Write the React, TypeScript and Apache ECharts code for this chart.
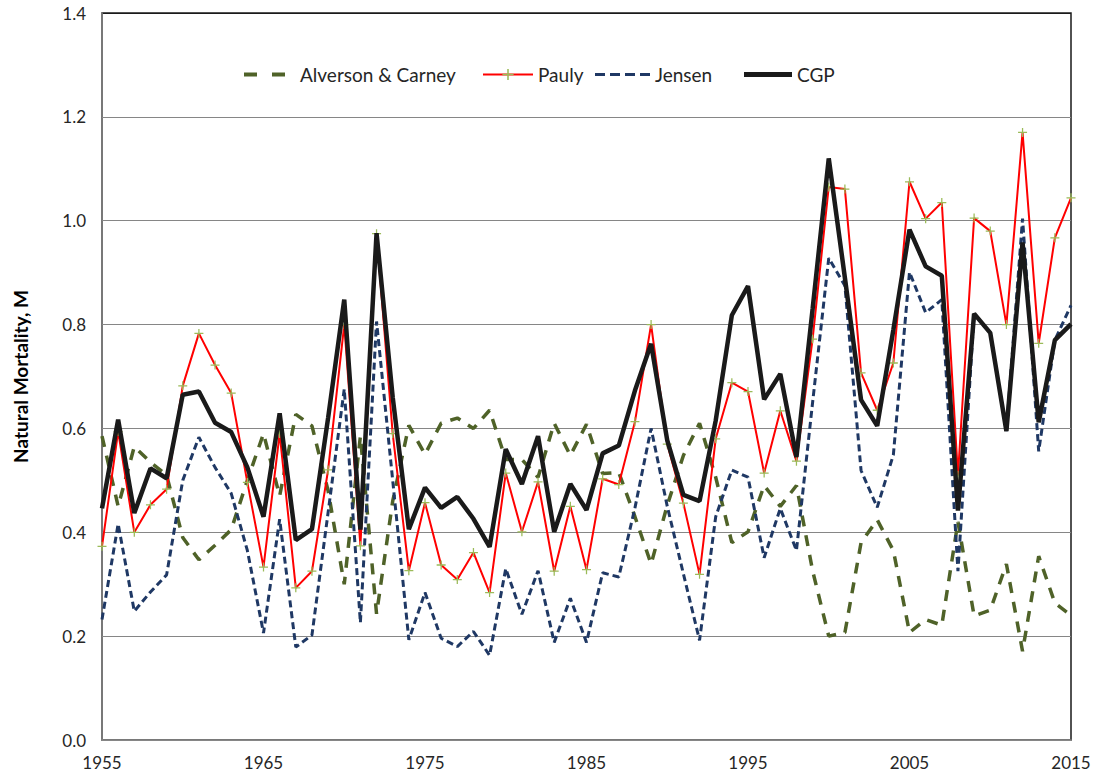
import React, { useEffect, useRef } from "react";
import * as echarts from "echarts";

const years: string[] = [];
for (let y = 1955; y <= 2015; y++) years.push(String(y));

const alversonCarney = [
  0.585, 0.45, 0.565, 0.535, 0.51, 0.39, 0.347, 0.375, 0.405, 0.5,
  0.59, 0.47, 0.627, 0.605, 0.48, 0.3, 0.585, 0.243, 0.46, 0.606,
  0.55, 0.61, 0.62, 0.6, 0.635, 0.54, 0.54, 0.506, 0.61, 0.548,
  0.608, 0.513, 0.515, 0.43, 0.339, 0.452, 0.548, 0.61, 0.506, 0.38,
  0.401, 0.49, 0.45, 0.49, 0.326, 0.2, 0.207, 0.38, 0.424, 0.365,
  0.207, 0.232, 0.221, 0.42, 0.239, 0.25, 0.339, 0.171, 0.354, 0.264,
  0.24,
];

const pauly = [
  0.373, 0.594, 0.4, 0.453, 0.483, 0.682, 0.783, 0.722, 0.668, 0.496,
  0.333, 0.59, 0.293, 0.325, 0.52, 0.8, 0.374, 0.975, 0.59, 0.326,
  0.457, 0.337, 0.309, 0.361, 0.284, 0.514, 0.401, 0.497, 0.325, 0.45,
  0.328, 0.503, 0.492, 0.613, 0.8, 0.57, 0.456, 0.319, 0.58, 0.688,
  0.671, 0.514, 0.634, 0.537, 0.772, 1.065, 1.061, 0.707, 0.635, 0.726,
  1.075, 1.004, 1.035, 0.51, 1.005, 0.98, 0.8, 1.17, 0.764, 0.967,
  1.044,
];

const jensen = [
  0.232, 0.416, 0.248, 0.285, 0.318, 0.5, 0.583, 0.525, 0.475, 0.365,
  0.206, 0.425, 0.179, 0.202, 0.438, 0.676, 0.226, 0.806, 0.5, 0.193,
  0.284, 0.196, 0.18, 0.209, 0.163, 0.33, 0.242, 0.326, 0.188, 0.273,
  0.188, 0.322, 0.314, 0.447, 0.6, 0.45, 0.32, 0.192, 0.43, 0.52,
  0.506, 0.351, 0.446, 0.365, 0.65, 0.928, 0.875, 0.519, 0.448, 0.549,
  0.901, 0.823, 0.848, 0.325, 0.82, 0.784, 0.595, 1.004, 0.556, 0.77,
  0.837,
];

const cgp = [
  0.446, 0.617, 0.437, 0.523, 0.504, 0.665, 0.671, 0.611, 0.593, 0.525,
  0.43, 0.629, 0.385, 0.406, 0.62, 0.848, 0.405, 0.976, 0.66, 0.406,
  0.486, 0.447, 0.468, 0.426, 0.372, 0.56, 0.493, 0.585, 0.401, 0.493,
  0.443, 0.552, 0.567, 0.673, 0.763, 0.577, 0.472, 0.46, 0.615, 0.818,
  0.874, 0.656, 0.705, 0.545, 0.83, 1.12, 0.89, 0.655, 0.605, 0.79,
  0.983, 0.912, 0.894, 0.442, 0.821, 0.784, 0.595, 0.958, 0.612, 0.77,
  0.801,
];

const PLUS = "path://M4.3,0H5.7V4.3H10V5.7H5.7V10H4.3V5.7H0V4.3H4.3Z";
const ICON_AC = "path://M0,0H13V4H0Z M28,0H41V4H28Z";
const ICON_JENSEN = "path://M0,0H10V3H0Z M15,0H25V3H15Z M30,0H40V3H30Z M45,0H55V3H45Z";
const FONT = "Lato, 'Noto Sans', sans-serif";

export default function App() {
  const ref = useRef<HTMLDivElement>(null);

  useEffect(() => {
    if (!ref.current) return;
    const chart = echarts.init(ref.current, null, { renderer: "svg" });
    const legendText = { fontFamily: FONT, fontSize: 19, color: "#262626" };
    const mkLegend = (
      name: string,
      left: number,
      itemWidth: number,
      itemHeight: number,
      icon: string | undefined,
      pad = 0
    ) => ({
      show: true,
      data: [icon ? { name, icon } : { name }],
      left,
      top: 60,
      itemWidth,
      itemHeight,
      textStyle: { ...legendText, padding: [0, 0, 0, pad] },
    });
    chart.setOption({
      animation: false,
      backgroundColor: "#ffffff",
      grid: {
        left: 102,
        right: 24,
        top: 13,
        bottom: 40,
        show: true,
        borderColor: "#1a1a1a",
        borderWidth: 1.5,
      },
      legend: [
        mkLegend("Alverson & Carney", 239, 41, 4, ICON_AC, 10),
        mkLegend("Pauly", 477, 50, 14, undefined),
        mkLegend("Jensen", 590, 55, 3, ICON_JENSEN),
        mkLegend("CGP", 739, 48, 5, "rect"),
      ],
      xAxis: {
        type: "category",
        data: years,
        boundaryGap: false,
        axisTick: { show: false },
        axisLine: { lineStyle: { color: "#868686", width: 1.5 } },
        axisLabel: {
          interval: 9,
          fontFamily: FONT,
          fontSize: 17,
          color: "#262626",
          margin: 14,
        },
        splitLine: { show: false },
      },
      yAxis: {
        type: "value",
        min: 0,
        max: 1.4,
        interval: 0.2,
        name: "Natural Mortality, M",
        nameLocation: "middle",
        nameRotate: 90,
        nameGap: 72,
        nameTextStyle: {
          fontFamily: FONT,
          fontSize: 19,
          fontWeight: "bold",
          color: "#000000",
        },
        axisTick: { show: false },
        axisLine: { show: true, lineStyle: { color: "#868686", width: 1.5 } },
        axisLabel: {
          fontFamily: FONT,
          fontSize: 17,
          color: "#262626",
          margin: 16,
          formatter: (v: number) => v.toFixed(1),
        },
        splitLine: {
          lineStyle: {
            color: ["#868686", "#868686", "#868686", "#868686", "#868686", "#868686", "#868686", "#1a1a1a"],
            width: 1.2,
          },
        },
      },
      series: [
        {
          name: "Alverson & Carney",
          type: "line",
          data: alversonCarney,
          symbol: "none",
          z: 2,
          itemStyle: { color: "#4F6228" },
          lineStyle: { color: "#4F6228", width: 3.5, type: [11, 9] },
        },
        {
          name: "Pauly",
          type: "line",
          data: pauly,
          symbol: PLUS,
          symbolSize: 9,
          showAllSymbol: true,
          z: 3,
          itemStyle: { color: "#9BBB59" },
          lineStyle: { color: "#FF0000", width: 2 },
        },
        {
          name: "Jensen",
          type: "line",
          data: jensen,
          symbol: "none",
          z: 4,
          itemStyle: { color: "#1F3864" },
          lineStyle: { color: "#1F3864", width: 3, type: [7, 4] },
        },
        {
          name: "CGP",
          type: "line",
          data: cgp,
          symbol: "none",
          z: 5,
          itemStyle: { color: "#1a1a1a" },
          lineStyle: { color: "#1a1a1a", width: 4.5 },
        },
      ],
    });
    return () => chart.dispose();
  }, []);

  return (
    <div
      ref={ref}
      style={{ position: "fixed", left: 0, top: 0, width: 1095, height: 780, background: "#fff" }}
    />
  );
}
